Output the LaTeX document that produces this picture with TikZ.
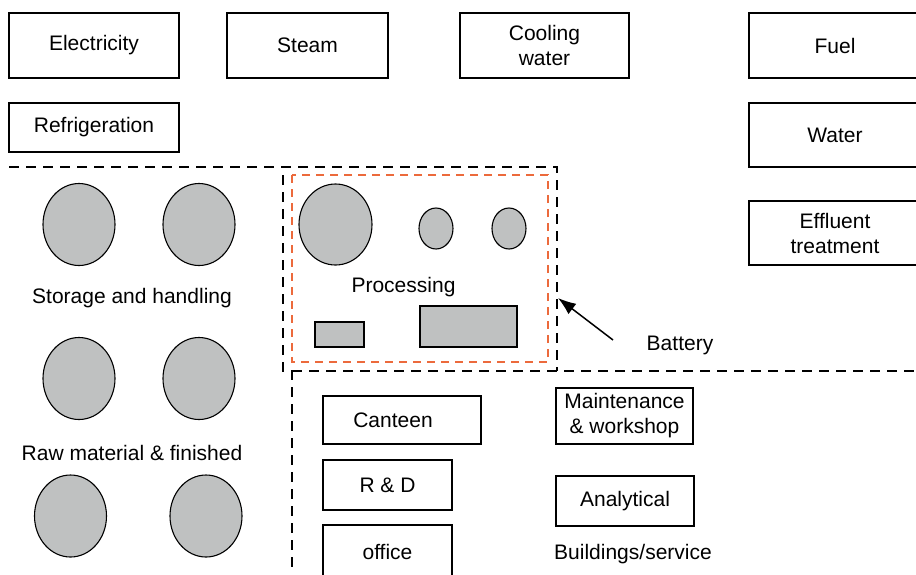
\documentclass[tikz,border=0pt]{standalone}
\usepackage{fontspec}
\setmainfont{Liberation Sans}
\usepackage{xcolor}
\usepackage{tikz}
\usetikzlibrary{shapes}
\usetikzlibrary{arrows.meta}

\definecolor{tankgrey}{HTML}{BFC1C1}
\definecolor{batorange}{HTML}{EC6A3C}

\begin{document}
\begin{tikzpicture}[x=1pt,y=-1pt]
        \tikzstyle{unit} = [rectangle, draw, line width=1.2pt, fill=white, inner sep=0pt, align=center, font=\fontsize{21}{25}\selectfont]
        \tikzstyle{tank} = [ellipse, draw, line width=1.1pt, fill=tankgrey, inner sep=0pt]
        \tikzstyle{skid} = [rectangle, draw, line width=1.1pt, fill=tankgrey, inner sep=0pt]
        \tikzstyle{label} = [inner sep=0pt, font=\fontsize{21}{25}\selectfont]
        \tikzstyle{area} = [line width=1.1pt, dash pattern=on 10pt off 7pt]

        \useasboundingbox (0,0) rectangle (916,574);
        \clip (0,0) rectangle (916,574);

        % utilities
        \node[unit, minimum width=170pt, minimum height=65pt] (elec) at (94,45.5) {Electricity};
        \node[unit, minimum width=161pt, minimum height=65pt] (steam) at (307.5,45.5) {Steam};
        \node[unit, minimum width=169pt, minimum height=65pt] (cool) at (544.5,45.5) {Cooling\\water};
        \node[unit, minimum width=170pt, minimum height=49pt] (refr) at (94,127.5) {Refrigeration};
        \node[unit, minimum width=172pt, minimum height=65pt] (fuel) at (835,45.5) {Fuel};
        \node[unit, minimum width=172pt, minimum height=64pt] (water) at (835,135) {Water};
        \node[unit, minimum width=172pt, minimum height=64pt] (effl) at (835,233) {Effluent\\treatment};

        % area boundaries
        \draw[area] (9,167) -- (557,167) -- (557,371);
        \draw[area] (283,175) -- (283,371) -- (292,371) -- (292,574);
        \draw[area] (292,371) -- (916,371);
        \draw[area, batorange, dash pattern=on 8pt off 6pt] (292,175) rectangle (548,362);

        % storage and handling
        \foreach \i/\x/\y in {1/79/224.5, 2/199/224.5, 3/79/378.5, 4/199/378.5, 5/70.5/516, 6/206/516}
        {
                \node[tank, minimum width=72pt, minimum height=82pt] (s\i) at (\x,\y) {};
        }
        \node[label] (store) at (132,298) {Storage and handling};
        \node[label] (raw) at (132,453) {Raw material \& finished};

        % processing
        \node[tank, minimum width=73pt, minimum height=81pt] (p1) at (335.5,224.5) {};
        \foreach \i/\x in {2/436, 3/509}
        {
                \node[tank, minimum width=34pt, minimum height=41pt] (p\i) at (\x,228.5) {};
        }
        \node[skid, minimum width=49pt, minimum height=25pt] (r1) at (339.5,334.5) {};
        \node[skid, minimum width=97pt, minimum height=41pt] (r2) at (468.5,326.5) {};
        \node[label] (proc) at (403.5,287) {Processing};

        % battery limit
        \node[label] (bat) at (680,345) {Battery};
        \coordinate (btail) at (613,340);
        \coordinate (btip) at (558,298);
        \draw[line width=1.5pt, -{Latex[length=18pt,width=13pt]}] (btail) -- (btip);

        % buildings
        \node[unit, minimum width=158pt, minimum height=48pt, text width=140pt, align=center] (cant) at (402,420) {\hspace*{-18pt}Canteen};
        \node[unit, minimum width=129pt, minimum height=50pt] (rd) at (387.5,485) {R \& D};
        \node[unit, minimum width=129pt, minimum height=54pt] (off) at (387.5,552) {office};
        \node[unit, minimum width=137pt, minimum height=56pt] (maint) at (624.5,416) {Maintenance\\\& workshop};
        \node[unit, minimum width=138pt, minimum height=50pt] (anal) at (625,501) {Analytical};
        \node[label] (bldg) at (633,554) {Buildings/service};
\end{tikzpicture}
\end{document}
